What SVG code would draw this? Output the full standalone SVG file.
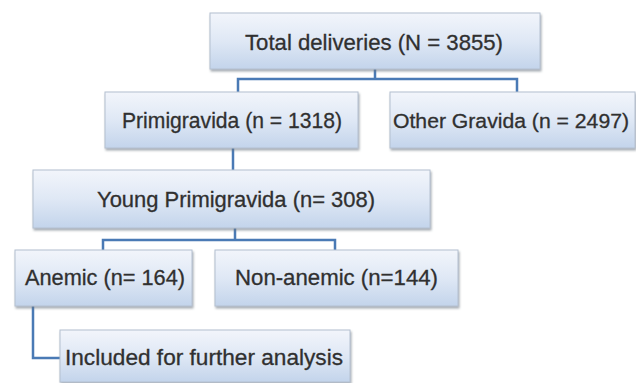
<svg xmlns="http://www.w3.org/2000/svg" width="636" height="383" viewBox="0 0 636 383">
<defs>
<linearGradient id="g" x1="0" y1="0" x2="0" y2="1">
<stop offset="0" stop-color="#f2f5fb"/>
<stop offset="0.5" stop-color="#dfe8f5"/>
<stop offset="1" stop-color="#c3d4eb"/>
</linearGradient>
<filter id="sh" x="-5%" y="-10%" width="112%" height="130%">
<feDropShadow dx="1" dy="2" stdDeviation="1.2" flood-color="#6a7480" flood-opacity="0.6"/>
</filter>
</defs>
<style>
.box{fill:url(#g);stroke:#b4c0d0;stroke-width:1;filter:url(#sh)}
.t{font-family:"Liberation Sans",Arial,sans-serif;font-size:22px;fill:#303030;stroke:#303030;stroke-width:0.3}
.c{fill:none;stroke:#4a7ab5;stroke-width:2.5}
</style>
<rect width="636" height="383" fill="#ffffff"/>
<g id="connectors">
<path class="c" d="M375 69 V79 H238 V92 M375 79 H517 V92"/>
<path class="c" d="M233 148 V170"/>
<path class="c" d="M235 228 V240 H103 V250 M235 240 H335 V250"/>
<path class="c" d="M33 306 V358 H60"/>
</g>
<g id="n1"><rect class="box" x="210" y="13" width="330" height="56"/><text class="t" x="245" y="50" textLength="258" lengthAdjust="spacingAndGlyphs">Total deliveries (N = 3855)</text></g>
<g id="n2"><rect class="box" x="105" y="92" width="253" height="56"/><text class="t" x="122" y="128" textLength="220" lengthAdjust="spacingAndGlyphs">Primigravida (n = 1318)</text></g>
<g id="n3"><rect class="box" x="390" y="92" width="245" height="56"/><text class="t" x="393" y="128" style="font-size:20.5px" textLength="236" lengthAdjust="spacingAndGlyphs">Other Gravida (n = 2497)</text></g>
<g id="n4"><rect class="box" x="33" y="170" width="397" height="58"/><text class="t" x="97" y="207" textLength="278" lengthAdjust="spacingAndGlyphs">Young Primigravida (n= 308)</text></g>
<g id="n5"><rect class="box" x="15" y="250" width="177" height="56"/><text class="t" x="25" y="285" textLength="160" lengthAdjust="spacingAndGlyphs">Anemic (n= 164)</text></g>
<g id="n6"><rect class="box" x="215" y="250" width="243" height="56"/><text class="t" x="235" y="285" textLength="203" lengthAdjust="spacingAndGlyphs">Non-anemic (n=144)</text></g>
<g id="n7"><rect class="box" x="60" y="330" width="290" height="52"/><text class="t" x="65" y="365" textLength="278" lengthAdjust="spacingAndGlyphs">Included for further analysis</text></g>
</svg>
